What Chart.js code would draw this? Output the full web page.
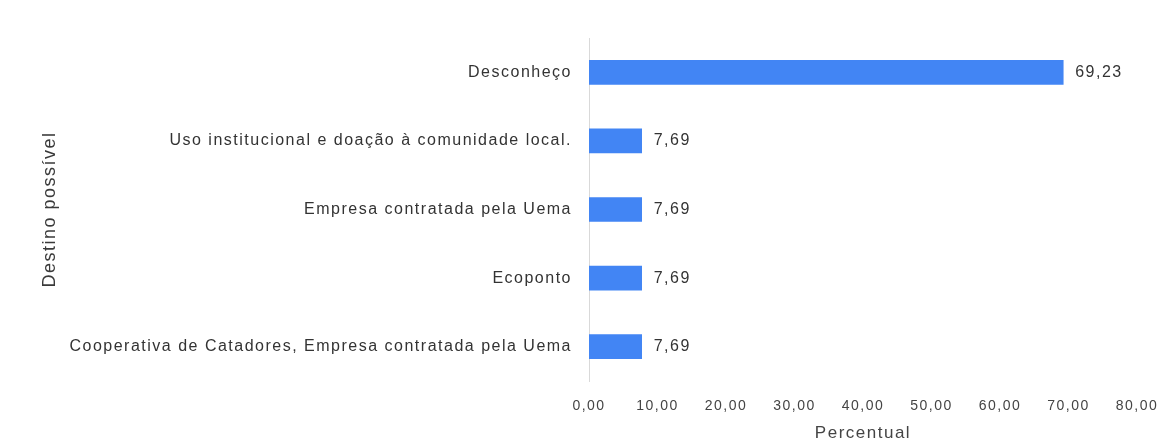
<!DOCTYPE html>
<html>
<head>
<meta charset="utf-8">
<script src="https://cdn.jsdelivr.net/npm/chart.js@4.4.1/dist/chart.umd.min.js"></script>
<style>
  html, body { margin: 0; padding: 0; background: #ffffff; }
  #wrap { width: 1164px; height: 445px; position: relative; }
</style>
</head>
<body>
<div id="wrap"><canvas id="c" width="1164" height="445"></canvas></div>
<script>
const categories = [
  "Desconheço",
  "Uso institucional e doação à comunidade local.",
  "Empresa contratada pela Uema",
  "Ecoponto",
  "Cooperativa de Catadores, Empresa contratada pela Uema"
];
const values = [69.23, 7.69, 7.69, 7.69, 7.69];
const xTicks = { min: 0, max: 80, step: 10 };
const yTitle = "Destino possível";
const xTitle = "Percentual";

const fmt = v => Number(v).toFixed(2).replace('.', ',');
const FONT = "'Liberation Sans', Arial, sans-serif";

const spacingPlugin = {
  id: 'spacing',
  beforeLayout(chart) { chart.ctx.letterSpacing = '1.5px'; },
  beforeDraw(chart) { chart.ctx.letterSpacing = '1.5px'; }
};

const valueLabels = {
  id: 'valueLabels',
  afterDatasetsDraw(chart) {
    const ctx = chart.ctx;
    const meta = chart.getDatasetMeta(0);
    ctx.save();
    ctx.font = "16px " + FONT;
    ctx.fillStyle = '#333333';
    ctx.textAlign = 'left';
    ctx.textBaseline = 'middle';
    meta.data.forEach((bar, i) => {
      ctx.fillText(fmt(values[i]), bar.x + 12, bar.y);
    });
    ctx.restore();
  }
};

new Chart(document.getElementById('c'), {
  type: 'bar',
  data: {
    labels: categories,
    datasets: [{
      data: values,
      backgroundColor: '#4285F4',
      borderWidth: 0,
      barThickness: 24
    }]
  },
  options: {
    indexAxis: 'y',
    responsive: false,
    animation: false,
    devicePixelRatio: 1,
    layout: { padding: { top: 38, right: 27, bottom: 0, left: 0 } },
    plugins: {
      legend: { display: false },
      tooltip: { enabled: false }
    },
    scales: {
      x: {
        min: xTicks.min,
        max: xTicks.max,
        grid: { display: false },
        border: { display: false },
        ticks: {
          stepSize: xTicks.step,
          padding: 9,
          color: '#444444',
          font: { family: FONT, size: 14 },
          callback: v => fmt(v)
        },
        title: {
          display: true,
          text: xTitle,
          color: '#444444',
          font: { family: FONT, size: 17 },
          padding: { top: 0, bottom: 1 }
        },
        afterFit(scale) { scale.height = 64; scale.paddingRight = 0; scale.paddingLeft = 0; }
      },
      y: {
        grid: { display: false },
        border: { display: true, color: '#d9d9d9', width: 1 },
        ticks: {
          padding: 9,
          color: '#333333',
          font: { family: FONT, size: 16 },
          autoSkip: false
        },
        title: {
          display: true,
          text: yTitle,
          color: '#3a3a3a',
          font: { family: FONT, size: 18 },
          padding: { top: 39, bottom: 4 }
        },
        afterFit(scale) { scale.width = 589; }
      }
    }
  },
  plugins: [spacingPlugin, valueLabels]
});
</script>
</body>
</html>
